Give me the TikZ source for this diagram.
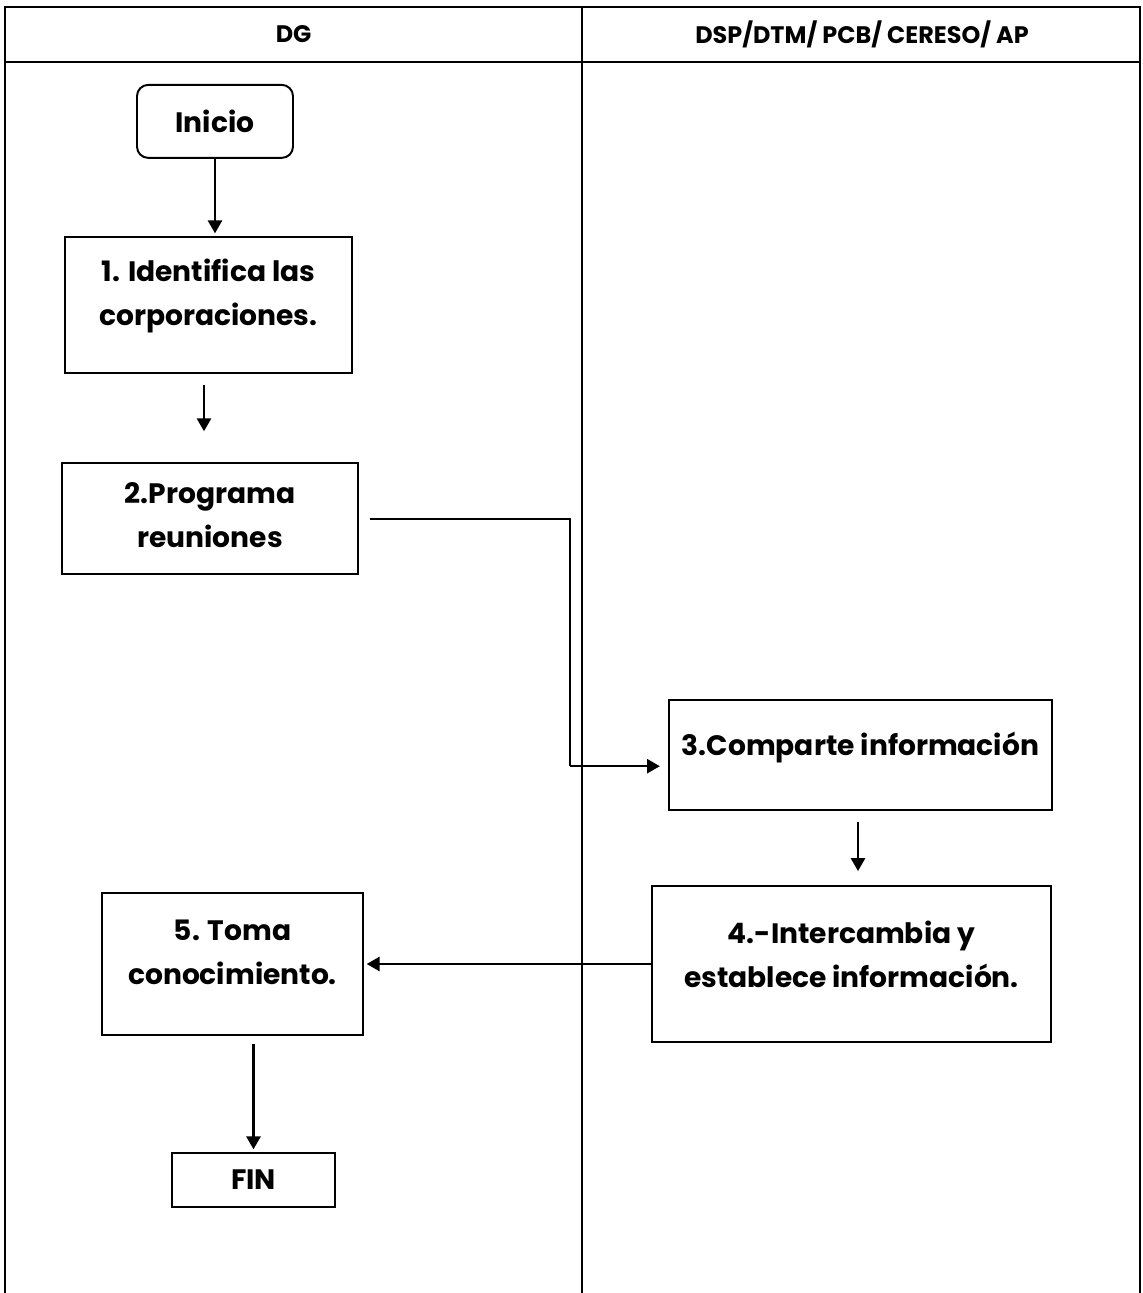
\documentclass[tikz,border=0pt]{standalone}
\usepackage{fontspec}
\setmainfont{Poppins}
\usetikzlibrary{shapes,arrows}
\usetikzlibrary{calc}

\begin{document}
\begin{tikzpicture}

\tikzstyle{lane} = [line width=1.8pt, draw=black]
\tikzstyle{step_block} = [draw, line width=1.4pt, draw=black, inner sep=3, font=\bfseries\fontsize{20}{31}\selectfont]
\tikzstyle{start_block} = [draw, line width=1.4pt, draw=black, rounded corners=8, font=\bfseries\fontsize{20}{31}\selectfont]
\tikzstyle{head} = [font=\bfseries\fontsize{17}{20}\selectfont]
\tikzstyle{flow} = [-triangle 60, line width=1.5pt]

\useasboundingbox (0,0) rectangle (28.575,32.325);

% swimlanes
\draw[lane] (0.125,0) -- (0.125,32.15) -- (28.5,32.15) -- (28.5,0);
\draw[lane] (0.125,30.775) -- (28.5,30.775);
\draw[lane] (14.55,0) -- (14.55,32.15);

\node [head] (dg) at (7.34,31.47) {DG};
\node [head] (dsp) at (21.55,31.47) {DSP/DTM/ PCB/ CERESO/ AP};



\node [start_block, minimum width=3.9cm, minimum height=1.825cm] (inicio) at (5.375,29.29) {Inicio};

\node [step_block, minimum width=7.175cm, minimum height=3.4cm] (s1) at (5.2125,24.7) {\begin{tabular}{c} 1. Identifica las\\ corporaciones.\\[0.5cm]\end{tabular}};

\node [step_block, minimum width=7.4cm, minimum height=2.775cm] (s2) at (5.25,19.36) {\begin{tabular}{c} 2.Programa\\ reuniones\\[0.1cm]\end{tabular}};

\node [step_block, minimum width=9.525cm, minimum height=2.75cm] (s3) at (21.5125,13.45) {\begin{tabular}{c} 3.Comparte información\\[0.4cm]\end{tabular}};

\node [step_block, minimum width=9.975cm, minimum height=3.9cm] (s4) at (21.2875,8.225) {\begin{tabular}{c} 4.-Intercambia y\\ establece información.\\[0.35cm]\end{tabular}};

\node [step_block, minimum width=6.525cm, minimum height=3.55cm] (s5) at (5.8125,8.225) {\begin{tabular}{c} 5. Toma\\ conocimiento.\\[0.5cm]\end{tabular}};

\node [step_block, minimum width=4.075cm, minimum height=1.35cm] (fin) at (6.3375,2.825) {FIN};



\coordinate (bend) at (14.25,13.17);

\draw[flow, shorten >=2] (inicio.south) -- (inicio.south |- s1.north);
\draw[flow, shorten <=8, shorten >=22] (s1.south -| 5.1,0) -- (s2.north -| 5.1,0);
\draw[line width=1.5pt, shorten <=8] (s2.east) -| (bend);
\draw[flow, shorten >=6] (bend) -- (bend -| s3.west);
\draw[flow, shorten <=8, shorten >=10] (s3.south -| 21.45,0) -- (s4.north -| 21.45,0);
\draw[flow, shorten >=2] (s4.west) -- (s5.east);
\draw[flow, shorten <=6, shorten >=2] (s5.south -| fin.north) -- (fin.north);

\end{tikzpicture}
\end{document}
